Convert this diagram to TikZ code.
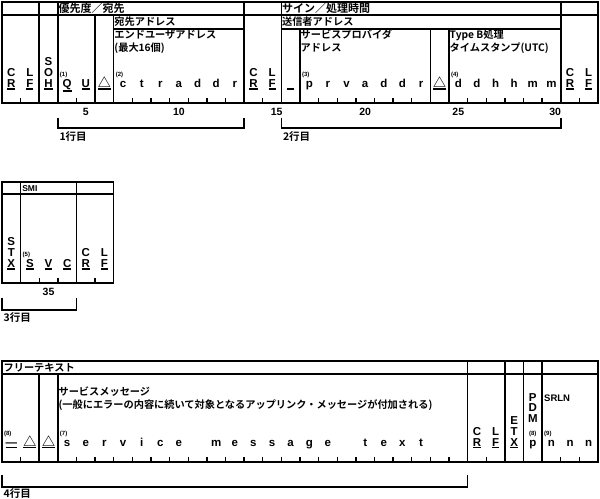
\documentclass[tikz,border=0pt]{standalone}
\usepackage{fontspec}
\setmainfont{Liberation Sans}
\newfontfamily\jp{Noto Sans CJK JP}[BoldFont={Noto Sans CJK JP Bold}]
\usetikzlibrary{positioning}
\newcommand\ulc[1]{\vtop{\hbox{#1}\kern0.7pt\hrule height 1.4pt}}

\begin{document}
\begin{tikzpicture}[
    x=18.63pt, y=-1pt,
    grid/.style={line width=1.5pt},
    tick/.style={line width=1.4pt},
    bracket/.style={line width=1.5pt},
    jhead/.style={anchor=west, inner sep=0.5pt, font=\jp\bfseries\fontsize{11}{12}\selectfont},
    jlabel/.style={anchor=west, inner sep=0.5pt, font=\jp\bfseries\fontsize{10.2}{12}\selectfont},
    chr/.style={anchor=base, inner sep=0pt, font=\bfseries\fontsize{11.5}{12}\selectfont},
    tri/.style={anchor=base, inner sep=0pt, font=\jp\bfseries\fontsize{13}{12}\selectfont},
    idx/.style={anchor=base west, inner sep=0pt, font=\bfseries\fontsize{6}{6}\selectfont},
    colnum/.style={inner sep=0pt, font=\bfseries\fontsize{10.5}{12}\selectfont},
    linename/.style={anchor=west, inner sep=0.5pt, font=\jp\bfseries\fontsize{10.5}{12}\selectfont}
]
\useasboundingbox (-0.10735,0) rectangle (32.10735,499);

% Heading lines 1 and 2
\draw[grid] (0,2) rectangle (32,103);
\draw[grid] (0,15) -- (32,15);
\draw[grid] (6,29) -- (13,29);
\draw[grid] (15,29) -- (30,29);
\foreach \k in {2,3,13,15,30} \draw[grid] (\k,2) -- (\k,103);
\foreach \k in {5,6} \draw[grid] (\k,15) -- (\k,103);
\foreach \k in {16,23,24} \draw[grid] (\k,29) -- (\k,103);
\foreach \k in {1,4,7,8,...,12,14,17,18,...,22,25,26,...,29,31} \draw[tick] (\k,103) -- (\k,98);

\node[jhead] (prio) at (3,8.7) {優先度／宛先};
\node[jhead] (sign) at (15,8.7) {サイン／処理時間};
\node[jlabel] (dest) at (6,22) {宛先アドレス};
\node[jlabel] (orig) at (15,22) {送信者アドレス};
\node[jlabel] (enduser) at (6,35) {エンドユーザアドレス};
\node[jlabel] (enduser2) at (6,48) {(最大16個)};
\node[jlabel] (provider) at (16,35) {サービスプロバイダ};
\node[jlabel] (provider2) at (16,48) {アドレス};
\node[jlabel] (stamp) at (24,35) {Type B処理};
\node[jlabel] (stamp2) at (24,48) {タイムスタンプ(UTC)};

% CR LF, SOH
\node[chr] (crA) at (0.5,76.5) {C};
\node[chr] (crA2) at (0.5,87.5) {\ulc{R}};
\node[chr] (lfA) at (1.5,76.5) {L};
\node[chr] (lfA2) at (1.5,87.5) {\ulc{F}};
\node[chr] (soh1) at (2.5,65.5) {S};
\node[chr] (soh2) at (2.5,76.5) {O};
\node[chr] (soh3) at (2.5,87.5) {\ulc{H}};

% Priority and addressee
\node[idx] (n1) at (3.1,76.5) {(1)};
\node[chr] (prq) at (3.5,87.5) {\ulc{Q}};
\node[chr] (pru) at (4.5,87.5) {\ulc{U}};
\node[tri] (spA) at (5.5,87.5) {\ulc{△}};
\node[idx] (n2) at (6.1,76.5) {(2)};
\foreach \ch [count=\i from 7] in {c,t,r,a,d,d,r}
    \node[chr] (ctr\i) at (\i-0.5,87.5) {\ch};
\node[chr] (crB) at (13.5,76.5) {C};
\node[chr] (crB2) at (13.5,87.5) {\ulc{R}};
\node[chr] (lfB) at (14.5,76.5) {L};
\node[chr] (lfB2) at (14.5,87.5) {\ulc{F}};

% Signature and time
\node[chr] (blank) at (15.5,87.5) {\ulc{\hphantom{x}}};
\node[idx] (n3) at (16.1,76.5) {(3)};
\foreach \ch [count=\i from 17] in {p,r,v,a,d,d,r}
    \node[chr] (prv\i) at (\i-0.5,87.5) {\ch};
\node[tri] (spB) at (23.5,87.5) {\ulc{△}};
\node[idx] (n4) at (24.1,76.5) {(4)};
\foreach \ch [count=\i from 25] in {d,d,h,h,m,m}
    \node[chr] (ddh\i) at (\i-0.5,87.5) {\ch};
\node[chr] (crC) at (30.5,76.5) {C};
\node[chr] (crC2) at (30.5,87.5) {\ulc{R}};
\node[chr] (lfC) at (31.5,76.5) {L};
\node[chr] (lfC2) at (31.5,87.5) {\ulc{F}};

% Column numbers
\node[colnum] (c5) at (4.5,112) {5};
\node[colnum] (c10) at (9.5,112) {10};
\node[colnum] (c15) at (14.75,112) {15};
\node[colnum] (c20) at (19.5,112) {20};
\node[colnum] (c25) at (24.5,112) {25};
\node[colnum] (c30) at (29.7,112) {30};

% Line brackets
\draw[bracket] (3,118) -- (3,128) -- (13,128) -- (13,118);
\node[linename] (line1) at (3.05,137) {1行目};
\draw[bracket] (15,118) -- (15,128) -- (30,128) -- (30,118);
\node[linename] (line2) at (15.05,137) {2行目};

% Line 3
\draw[grid] (0,182) rectangle (6,283);
\draw[grid] (0,194) -- (6,194);
\foreach \k in {1,4} \draw[grid] (\k,182) -- (\k,283);
\foreach \k in {2,3,5} \draw[tick] (\k,283) -- (\k,278);
\node[anchor=west, inner sep=0.5pt, font=\bfseries\fontsize{8.5}{10}\selectfont] (smi) at (1.05,188.3) {SMI};
\node[chr] (stx1) at (0.5,245.5) {S};
\node[chr] (stx2) at (0.5,256.5) {T};
\node[chr] (stx3) at (0.5,267.5) {\ulc{X}};
\node[idx] (n5) at (1.1,256.5) {(5)};
\node[chr] (svcS) at (1.5,267.5) {\ulc{S}};
\node[chr] (svcV) at (2.5,267.5) {\ulc{V}};
\node[chr] (svcC) at (3.5,267.5) {\ulc{C}};
\node[chr] (crD) at (4.5,256.5) {C};
\node[chr] (crD2) at (4.5,267.5) {\ulc{R}};
\node[chr] (lfD) at (5.5,256.5) {L};
\node[chr] (lfD2) at (5.5,267.5) {\ulc{F}};
\node[colnum] (c35) at (2.5,292) {35};
\draw[bracket] (0,298) -- (0,310) -- (4,310) -- (4,298);
\node[linename] (line3) at (0.05,318) {3行目};

% Line 4
\draw[grid] (0,361) rectangle (32,462);
\draw[grid] (0,374) -- (32,374);
\foreach \k in {2,3} \draw[grid] (\k,374) -- (\k,462);
\foreach \k in {25,27,28,29} \draw[grid] (\k,361) -- (\k,462);
\foreach \k in {1,4,5,...,24,26,30,31} \draw[tick] (\k,462) -- (\k,457);

\node[jlabel] (free) at (0.05,367.7) {フリーテキスト};
\node[jlabel] (svcmsg) at (3,392) {サービスメッセージ};
\node[jlabel] (svcmsg2) at (3,405) {(一般にエラーの内容に続いて対象となるアップリンク・メッセージが付加される)};
\node[idx] (n8) at (0.1,435.5) {(8)};
\node[chr] (dash) at (0.5,446.5) {\ulc{—}};
\node[tri] (spC) at (1.5,446.5) {\ulc{△}};
\node[tri] (spD) at (2.5,446.5) {\ulc{△}};
\node[idx] (n7) at (3.1,435.5) {(7)};
\foreach \i/\ch in {4/s,5/e,6/r,7/v,8/i,9/c,10/e,12/m,13/e,14/s,15/s,16/a,17/g,18/e,20/t,21/e,22/x,23/t}
    \node[chr] (txt\i) at (\i-0.5,446.5) {\ch};
\node[chr] (crE) at (25.5,435.5) {C};
\node[chr] (crE2) at (25.5,446.5) {\ulc{R}};
\node[chr] (lfE) at (26.5,435.5) {L};
\node[chr] (lfE2) at (26.5,446.5) {\ulc{F}};
\node[chr] (etx1) at (27.5,424.5) {E};
\node[chr] (etx2) at (27.5,435.5) {T};
\node[chr] (etx3) at (27.5,446.5) {\ulc{X}};
\node[chr] (pdm1) at (28.5,402) {P};
\node[chr] (pdm2) at (28.5,412) {D};
\node[chr] (pdm3) at (28.5,422.5) {M};
\node[idx, anchor=base] (n8b) at (28.5,435.5) {(8)};
\node[chr] (pdm4) at (28.5,446.5) {p};
\node[anchor=base west, inner sep=0pt, font=\bfseries\fontsize{9.5}{10}\selectfont] (srln) at (29.1,402) {SRLN};
\node[idx] (n9) at (29.1,435.5) {(9)};
\foreach \i in {30,31,32}
    \node[chr] (srn\i) at (\i-0.5,446.5) {n};
\draw[bracket] (0,475) -- (0,487) -- (25,487) -- (25,475);
\node[linename] (line4) at (0.05,494) {4行目};

\end{tikzpicture}
\end{document}
